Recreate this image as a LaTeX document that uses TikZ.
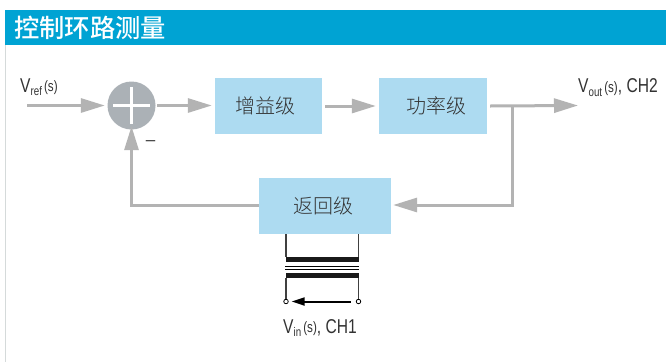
\documentclass[tikz,border=0pt]{standalone}
\usepackage{xcolor}
\usepackage{fontspec}
\usepackage{tikz}
\usetikzlibrary{arrows.meta,positioning,calc}
\setmainfont{Liberation Sans}
\newfontfamily\narrowfont[FakeStretch=0.78]{Liberation Sans}
\newfontfamily\cjkfont{Noto Sans CJK SC Light}
\newfontfamily\cjkbold{Noto Sans CJK SC Medium}
\definecolor{banner}{HTML}{00A3D3}
\definecolor{boxfill}{HTML}{ADDBF1}
\definecolor{flowgrey}{HTML}{B3B3B3}
\definecolor{sumgrey}{HTML}{ABB1B6}
\definecolor{edgegrey}{HTML}{D5DADA}
\definecolor{inktext}{HTML}{333333}
\newcommand{\sigsub}[2]{{\fontsize{20}{20}\narrowfont V}{\fontsize{12.5}{12.5}\narrowfont\raisebox{-3.5pt}{#1}\,\raisebox{0.5pt}{\fontsize{15}{15}\selectfont (s)}#2}}
\tikzset{
  % Blocks
  block/.style={fill=boxfill,draw=none,minimum height=56pt,align=center,inner sep=0pt,
                text=inktext,font=\fontsize{20}{20}\cjkfont},
  % Summing junction
  sumnode/.style={circle,fill=sumgrey,minimum size=48pt,inner sep=0pt},
  % Connectors & labels
  fl/.style={-{Triangle[length=24pt,width=14pt]},flowgrey,line width=3pt},
  fllb/.style={inner sep=0pt,text=inktext,font=\narrowfont},
  % Transformer parts
  wire/.style={draw=black!75,line width=1.5pt},
  thinbar/.style={draw=black,line width=1pt},
  bar/.style={fill=black!90,minimum width=73.5pt,minimum height=5pt,inner sep=0pt},
  term/.style={circle,draw=black,fill=white,line width=0.8pt,minimum size=4.5pt,inner sep=0pt}
}
\begin{document}
\begin{tikzpicture}[x=1pt,y=-1pt]
  \useasboundingbox (0,0) rectangle (666,362);
  \fill[white] (0,0) rectangle (666,362);

  % Title band
  \fill[banner] (5,10) rectangle (666,45);
  \draw[edgegrey,line width=1.5pt] (5.5,45) -- (5.5,362);
  \node[anchor=west,inner sep=0pt,text=white,font=\fontsize{25.3}{25.3}\cjkbold] (title) at (14,28) {控制环路测量};

  % Forward path
  \node[sumnode] (sum) at (131.5,105.5) {};
  \node[block,minimum width=107pt] (gain) at (268.5,106) {\kern-7pt 增益级};
  \node[block,minimum width=108pt] (power) at (433,106) {\kern6pt 功率级};
  \node[block,minimum width=132pt] (fb) at (325,206) {\kern-4pt 返回级};

  % Plus sign in the junction
  \draw[white,line width=2.5pt] ([xshift=-18.5pt]sum.center) -- ([xshift=18.5pt]sum.center);
  \draw[white,line width=2.5pt] ([yshift=-18.5pt]sum.center) -- ([yshift=18.5pt]sum.center);

  \coordinate (in) at (27,105.5);
  \coordinate (out) at (578,105.5);
  \coordinate (split) at (512,105.5);
  \coordinate (return) at (512,205);
  \coordinate (back) at (131.5,205);

  \draw[fl] (in) -- ([xshift=-2.5pt]sum.west);
  \draw[fl] ([xshift=1.5pt]sum.east) -- ([xshift=-3pt]sum.east -| gain.west);
  \draw[fl] ([xshift=3pt]gain.east) -- ([xshift=-3pt]gain.east -| power.west);
  \draw[fl] ([xshift=3pt]power.east) -- (out);
  \draw[fl] (split) -- (return) -- ([xshift=2pt]return -| fb.east);
  \draw[flowgrey,line width=3pt] (fb.west |- back) -- (back);
  \draw[fl] ($(back)+(0,1.5)$) -- ([yshift=3.5pt]sum.south);

  % Labels
  \node[fllb,anchor=west] (vref) at (20,87) {\sigsub{ref}{}};
  \node[fllb,anchor=west] (vout) at (578,87.5) {\sigsub{out}{\fontsize{20}{20}\selectfont, CH2}};
  \node[fllb,anchor=center] (vin) at (320,328) {\sigsub{in}{\fontsize{20}{20}\selectfont, CH1}};
  \node[fllb,font=\fontsize{17}{17}\selectfont] (minus) at (150.5,143) {–};

  % Transformer
  \node[term] (tl) at (286,301.5) {};
  \node[term] (tr) at (358.5,301.5) {};
  \node[bar] (bartop) at (322.25,259.5) {};
  \node[bar] (barbot) at (322.25,275) {};
  \draw[wire] (fb.south -| tl) -- (bartop.north -| tl);
  \draw[wire] (fb.south -| tr) -- (bartop.north -| tr);
  \draw[wire] (barbot.south -| tl) -- (tl);
  \draw[wire] (barbot.south -| tr) -- (tr);
  \draw[thinbar] (bartop.west |- 0,266) -- (bartop.east |- 0,266);
  \draw[thinbar] (bartop.west |- 0,269.5) -- (bartop.east |- 0,269.5);
  \draw[-{Triangle[length=13pt,width=8pt]},black,line width=2pt] ([xshift=-5pt]tr.west) -- ([xshift=3pt]tl.east);
\end{tikzpicture}
\end{document}
